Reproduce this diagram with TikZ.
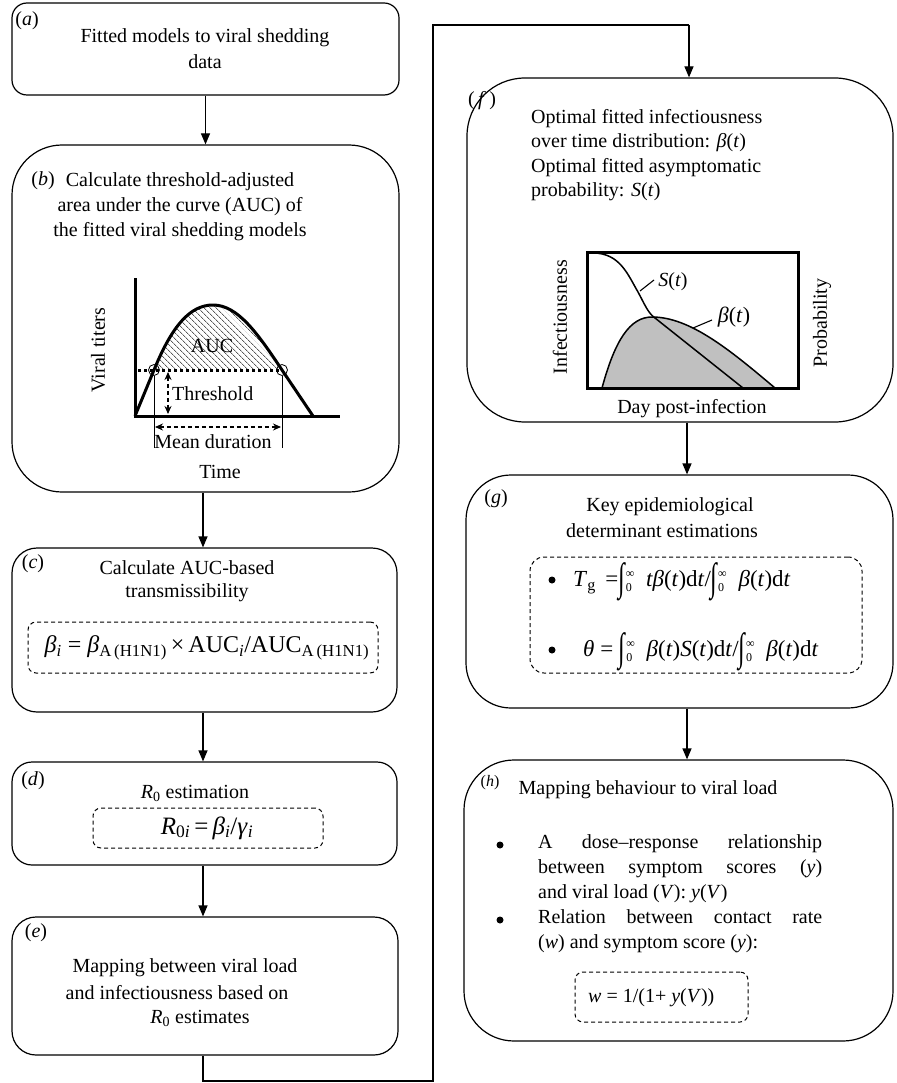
\documentclass[tikz,border=0pt]{standalone}
\usepackage{graphicx}
\usepackage{fontspec}
\setmainfont{Liberation Serif}
\usetikzlibrary{arrows.meta,patterns.meta}
\definecolor{fillgray}{RGB}{192,192,192}
\newcommand\vit[1]{\textit{#1}}
\newcommand\mysub[1]{\textsubscript{#1}}
\newcommand\myint{\raisebox{-0.4ex}{\scalebox{1.05}[1.7]{\upshape ∫}}\kern0.03em\makebox[0.72em][l]{\fontsize{12}{12}\selectfont\rlap{\raisebox{1.6ex}{∞}}\raisebox{-0.85ex}{0}}}
\tikzset{
  flowbox/.style={draw, line width=1.2pt, rounded corners=#1},
  dbox/.style={draw, dash pattern=on 4pt off 3pt, line width=1pt, rounded corners=8pt},
  arr/.style={-{Triangle[length=11pt,width=9pt]}, line width=1.2pt},
  link/.style={line width=1.2pt},
  txt/.style={font=\fontsize{20}{25}\selectfont, align=center, inner sep=0pt},
  lbl/.style={font=\fontsize{20}{24}\selectfont, inner sep=0pt},
  thick3/.style={line width=3pt},
  bul/.style={circle, fill, inner sep=0pt, minimum size=7pt},
  dimarr/.style={{Stealth[length=8pt,width=7pt]}-{Stealth[length=8pt,width=7pt]}, dash pattern=on 4pt off 3pt, line width=1.1pt},
}
\begin{document}
\begin{tikzpicture}[x=1pt,y=-1pt]
\useasboundingbox (0,0) rectangle (896,1083);

% ---------- boxes ----------
\node[flowbox=15pt, minimum width=387pt, minimum height=92pt] (a) at (205.5,49) {};
\node[flowbox=50pt, minimum width=387pt, minimum height=347pt] (b) at (205.5,318.5) {};
\node[flowbox=25pt, minimum width=385pt, minimum height=164pt] (c) at (204.5,630) {};
\node[flowbox=20pt, minimum width=385pt, minimum height=103pt] (d) at (204.5,813.5) {};
\node[flowbox=24pt, minimum width=386pt, minimum height=138pt] (e) at (205,986) {};
\node[flowbox=58pt, minimum width=426pt, minimum height=344pt] (f) at (680,250) {};
\node[flowbox=45pt, minimum width=427pt, minimum height=233pt] (g) at (679.5,591.5) {};
\node[flowbox=50pt, minimum width=429pt, minimum height=281pt] (h) at (678.5,900.5) {};

% ---------- connectors ----------
\draw[arr] (a.south) -- (a.south |- b.north);
\coordinate (cx) at (203,0);
\draw[arr] (cx |- b.south) -- (cx |- c.north);
\draw[arr] (cx |- c.south) -- (cx |- d.north);
\draw[arr] (cx |- d.south) -- (cx |- e.north);
\coordinate (lb) at (203,1081);
\coordinate (lr) at (433,1081);
\coordinate (tr) at (433,25);
\coordinate (tt) at (689,25);
\draw[link] (cx |- e.south) -- (lb) -- (lr) -- (tr) -- (tt);
\draw[arr] (tt) -- (tt |- f.north);
\coordinate (fx) at (687,0);
\draw[arr] (fx |- f.south) -- (fx |- g.north);
\draw[arr] (fx |- g.south) -- (fx |- h.north);

% ---------- (a) ----------
\node[lbl] (la) at (27,21) {(\vit{a})};
\node[txt, font=\fontsize{20}{26}\selectfont] (ta) at (205,49) {Fitted models to viral shedding\\data};

% ---------- (b) ----------
\node[lbl] (lbb) at (43,181) {(\vit{b})};
\node[txt] (tb) at (180,207) {Calculate threshold-adjusted\\area under the curve (AUC) of\\the fitted viral shedding models};
\fill[pattern={Lines[angle=-45,distance=4pt,line width=0.6pt]}]
  (154,370) .. controls (172,326) and (190,305) .. (213,305)
  .. controls (238,305) and (258,334) .. (282,370) -- cycle;
\node[lbl] (auc) at (212,346) {AUC};
\draw[line width=3pt, dash pattern=on 3pt off 3pt] (138,370) -- (280,370);
\draw[thick3] (135,278) -- (135,416) -- (340,416);
\draw[thick3, line join=round] (135,416) -- (154,370)
  .. controls (172,326) and (190,305) .. (213,305)
  .. controls (238,305) and (258,334) .. (282,370) -- (313,416);
\draw[line width=0.8pt] (154,370) circle[radius=5.5pt];
\draw[line width=0.8pt] (282,370) circle[radius=5.5pt];
\draw[dimarr] (168,372) -- (168,414);
\draw[line width=1pt] (154,376) -- (154,448);
\draw[line width=1pt] (282,376) -- (282,448);
\draw[dimarr] (155,427) -- (281,427);
\node[lbl, anchor=west] (thr) at (172,394) {Threshold};
\node[lbl] (md) at (213,442) {Mean duration};
\node[lbl] (tm) at (220,472) {Time};
\node[lbl, rotate=90] (vt) at (98,350) {Viral titers};

% ---------- (c) ----------
\node[lbl] (lc) at (33,564) {(\vit{c})};
\node[txt, font=\fontsize{20}{23}\selectfont] (tc) at (187,581) {Calculate AUC-based\\transmissibility};
\node[dbox, minimum width=350pt, minimum height=51pt] (fcbox) at (203,647.5) {};
\node[font=\fontsize{24}{28}\selectfont, inner sep=0pt] (fc) at (207,648)
  {\vit{β}\mysub{\vit{i}} = \vit{β}\mysub{A\,(H1N1)}\,×\,AUC\mysub{\vit{i}}/AUC\mysub{A\,(H1N1)}};

% ---------- (d) ----------
\node[lbl] (ld) at (33,781) {(\vit{d})};
\node[lbl] (td) at (195,793) {\vit{R}\mysub{0} estimation};
\node[dbox, minimum width=230pt, minimum height=40pt] (fdbox) at (208,828) {};
\node[font=\fontsize{25}{28}\selectfont, inner sep=0pt] (fd) at (207,828) {\vit{R}\mysub{0\vit{i}}\,=\,\vit{β}\mysub{\vit{i}}/\vit{γ}\mysub{\vit{i}}};

% ---------- (e) ----------
\node[lbl] (le) at (36,933) {(\vit{e})};
\node[lbl] (te1) at (185,968) {Mapping between viral load};
\node[lbl] (te2) at (177,993) {and infectiousness based on};
\node[lbl] (te3) at (200,1018) {\vit{R}\mysub{0} estimates};

% ---------- (f) ----------
\node[lbl] (lf) at (482,101) {(\,\vit{f}\,)};
\node[anchor=west, align=left, font=\fontsize{20}{24.5}\selectfont, inner sep=0pt] (tf) at (531,155)
  {Optimal fitted infectiousness\\over time distribution: \vit{β}(\vit{t})\\Optimal fitted asymptomatic\\probability: \vit{S}(\vit{t})};
\fill[fillgray] (602,388) .. controls (615,340) and (630,317) .. (652,317)
  .. controls (690,317) and (730,350) .. (775,388) -- cycle;
\draw[line width=1.5pt] (602,388) .. controls (615,340) and (630,317) .. (652,317)
  .. controls (690,317) and (730,350) .. (775,388);
\draw[line width=1.5pt] (593,253) .. controls (620,253) and (628,275) .. (638,292)
  .. controls (645,305) and (648,313) .. (655,318) -- (743,388);
\draw[line width=3pt] (587,252) rectangle (798,388);
\node[lbl] (st) at (673,282) {\vit{S}(\vit{t})};
\draw[line width=1.1pt] (640,291) -- (654,280);
\node[font=\fontsize{22}{26}\selectfont, inner sep=0pt] (bt) at (734,317) {\vit{β}(\vit{t})};
\draw[line width=1.1pt] (693,328) -- (712,320);
\node[lbl, rotate=90] (inf) at (560,317) {Infectiousness};
\node[lbl, rotate=90] (prob) at (822,323) {Probability};
\node[lbl] (dpi) at (692,409) {Day post-infection};

% ---------- (g) ----------
\node[lbl] (lg) at (496,499) {(\vit{g})};
\node[lbl] (tg1) at (670,507) {Key epidemiological};
\node[lbl] (tg2) at (662,531) {determinant estimations};
\node[dbox, rounded corners=14pt, minimum width=332pt, minimum height=116pt] (fgbox) at (696,615) {};
\node[bul] (bg1) at (552,580) {};
\node[bul] (bg2) at (552,650) {};
\node[anchor=west, font=\fontsize{23}{27}\selectfont, inner sep=0pt] (fg1) at (573,582)
  {\vit{T}\mysub{g}\, =\myint\,\vit{tβ}(\vit{t})d\vit{t}/\myint\,\vit{β}(\vit{t})d\vit{t}};
\node[anchor=west, font=\fontsize{23}{27}\selectfont, inner sep=0pt] (fg2) at (583,652)
  {\vit{θ} = \myint\,\vit{β}(\vit{t})\vit{S}(\vit{t})d\vit{t}/\myint\,\vit{β}(\vit{t})d\vit{t}};

% ---------- (h) ----------
\node[font=\fontsize{16}{20}\selectfont, inner sep=0pt] (lh) at (490,783) {(\vit{h})};
\node[lbl] (th) at (648,790) {Mapping behaviour to viral load};
\node[bul] (bh1) at (500,845) {};
\node[bul] (bh2) at (500,920) {};
\node[anchor=north west, align=left, font=\fontsize{20}{25}\selectfont, inner sep=0pt] (thb) at (538,834)
  {\makebox[284pt][s]{A dose--response relationship}\\
   \makebox[284pt][s]{between symptom scores (\vit{y})}\\
   and viral load (\vit{V}): \vit{y}(\vit{V})\\
   \makebox[284pt][s]{Relation between contact rate}\\
   (\vit{w}) and symptom score (\vit{y}):};
\node[dbox, minimum width=173pt, minimum height=50pt] (fhbox) at (661.5,997) {};
\node[anchor=west, font=\fontsize{20}{24}\selectfont, inner sep=0pt] (fh) at (588,998) {\vit{w} = 1/(1+ \vit{y}(\vit{V}))};
\end{tikzpicture}
\end{document}
